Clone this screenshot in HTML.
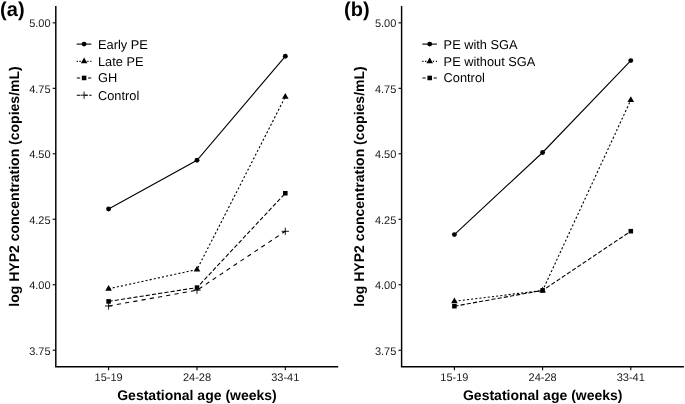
<!DOCTYPE html>
<html><head><meta charset="utf-8"><style>
html,body{margin:0;padding:0;background:#fff;width:685px;height:404px;overflow:hidden}
svg{display:block}
svg{will-change:transform}
text{font-family:"Liberation Sans",sans-serif;text-rendering:geometricPrecision}
.tk{font-size:11px;fill:#1a1a1a}
.lg{font-size:12.8px;fill:#000}
.ti{font-size:14px;font-weight:bold;fill:#000}
.lab{font-size:20px;font-weight:bold;fill:#000}
</style></head><body>
<svg width="685" height="404" viewBox="0 0 685 404">
<rect width="685" height="404" fill="#fff"/>
<path d="M55.80 6.1V367.50M55.10 366.8H338.20" stroke="#000" stroke-width="1.45" fill="none"/>
<path d="M52.70 22.85H55.8" stroke="#000" stroke-width="1.1"/>
<text x="50.55" y="27.25" class="tk" text-anchor="end">5.00</text>
<path d="M52.70 88.32H55.8" stroke="#000" stroke-width="1.1"/>
<text x="50.55" y="92.72" class="tk" text-anchor="end">4.75</text>
<path d="M52.70 153.80H55.8" stroke="#000" stroke-width="1.1"/>
<text x="50.55" y="158.20" class="tk" text-anchor="end">4.50</text>
<path d="M52.70 219.27H55.8" stroke="#000" stroke-width="1.1"/>
<text x="50.55" y="223.67" class="tk" text-anchor="end">4.25</text>
<path d="M52.70 284.75H55.8" stroke="#000" stroke-width="1.1"/>
<text x="50.55" y="289.15" class="tk" text-anchor="end">4.00</text>
<path d="M52.70 350.23H55.8" stroke="#000" stroke-width="1.1"/>
<text x="50.55" y="354.62" class="tk" text-anchor="end">3.75</text>
<path d="M108.60 366.8V370.30" stroke="#000" stroke-width="1.1"/>
<text x="108.60" y="381.4" class="tk" text-anchor="middle">15-19</text>
<path d="M197.00 366.8V370.30" stroke="#000" stroke-width="1.1"/>
<text x="197.00" y="381.4" class="tk" text-anchor="middle">24-28</text>
<path d="M285.30 366.8V370.30" stroke="#000" stroke-width="1.1"/>
<text x="285.30" y="381.4" class="tk" text-anchor="middle">33-41</text>
<text x="197.00" y="399.9" class="ti" text-anchor="middle">Gestational age (weeks)</text>
<text transform="translate(19.00,186.5) rotate(-90)" class="ti" text-anchor="middle">log HYP2 concentration (copies/mL)</text>
<text x="0.10" y="16.2" class="lab">(a)</text>
<polyline points="108.60,209.00 197.00,160.25 285.30,56.30" fill="none" stroke="#000" stroke-width="1.1"/><circle cx="108.60" cy="209.00" r="2.45" fill="#000"/><circle cx="197.00" cy="160.25" r="2.45" fill="#000"/><circle cx="285.30" cy="56.30" r="2.45" fill="#000"/>
<polyline points="108.60,288.80 197.00,269.50 285.30,96.80" fill="none" stroke="#000" stroke-width="1.1" stroke-dasharray="2.1 2.1"/><polygon points="108.60,284.99 111.90,290.71 105.30,290.71" fill="#000"/><polygon points="197.00,265.69 200.30,271.41 193.70,271.41" fill="#000"/><polygon points="285.30,92.99 288.60,98.71 282.00,98.71" fill="#000"/>
<polyline points="108.60,301.40 197.00,287.60 285.30,193.25" fill="none" stroke="#000" stroke-width="1.1" stroke-dasharray="4.18 2.09"/><rect x="106.32" y="299.12" width="4.56" height="4.56" fill="#000"/><rect x="194.72" y="285.32" width="4.56" height="4.56" fill="#000"/><rect x="283.02" y="190.97" width="4.56" height="4.56" fill="#000"/>
<polyline points="108.60,306.00 197.00,290.20 285.30,231.30" fill="none" stroke="#000" stroke-width="1.1" stroke-dasharray="4.18 4.18"/><path d="M104.95 306.00H112.25M108.60 302.35V309.65" stroke="#000" stroke-width="0.9" fill="none"/><path d="M193.35 290.20H200.65M197.00 286.55V293.85" stroke="#000" stroke-width="0.9" fill="none"/><path d="M281.65 231.30H288.95M285.30 227.65V234.95" stroke="#000" stroke-width="0.9" fill="none"/>
<path d="M76.70 44.10H91.30" stroke="#000" stroke-width="1.1"/>
<circle cx="84.10" cy="44.10" r="2.45" fill="#000"/>
<text x="98.00" y="48.50" class="lg">Early PE</text>
<path d="M76.70 61.35H77.90M79.40 61.35H80.70M87.30 61.35H88.50M90.30 61.35H91.40" stroke="#000" stroke-width="1.1"/>
<polygon points="84.10,57.54 87.40,63.26 80.80,63.26" fill="#000"/>
<text x="98.00" y="65.75" class="lg">Late PE</text>
<path d="M76.80 77.95H80.10M88.00 77.95H91.25" stroke="#000" stroke-width="1.1"/>
<rect x="81.82" y="75.67" width="4.56" height="4.56" fill="#000"/>
<text x="98.00" y="82.35" class="lg">GH</text>
<path d="M76.80 95.20H80.00M85.00 95.20H87.60M89.20 95.20H91.60" stroke="#000" stroke-width="1.1"/>
<path d="M80.45 95.20H87.75M84.10 91.55V98.85" stroke="#000" stroke-width="0.9" fill="none"/>
<text x="98.00" y="99.60" class="lg">Control</text>
<path d="M401.60 6.1V367.50M400.90 366.8H683.90" stroke="#000" stroke-width="1.45" fill="none"/>
<path d="M398.50 22.85H401.6" stroke="#000" stroke-width="1.1"/>
<text x="396.35" y="27.25" class="tk" text-anchor="end">5.00</text>
<path d="M398.50 88.32H401.6" stroke="#000" stroke-width="1.1"/>
<text x="396.35" y="92.72" class="tk" text-anchor="end">4.75</text>
<path d="M398.50 153.80H401.6" stroke="#000" stroke-width="1.1"/>
<text x="396.35" y="158.20" class="tk" text-anchor="end">4.50</text>
<path d="M398.50 219.27H401.6" stroke="#000" stroke-width="1.1"/>
<text x="396.35" y="223.67" class="tk" text-anchor="end">4.25</text>
<path d="M398.50 284.75H401.6" stroke="#000" stroke-width="1.1"/>
<text x="396.35" y="289.15" class="tk" text-anchor="end">4.00</text>
<path d="M398.50 350.23H401.6" stroke="#000" stroke-width="1.1"/>
<text x="396.35" y="354.62" class="tk" text-anchor="end">3.75</text>
<path d="M454.40 366.8V370.30" stroke="#000" stroke-width="1.1"/>
<text x="454.40" y="381.4" class="tk" text-anchor="middle">15-19</text>
<path d="M542.60 366.8V370.30" stroke="#000" stroke-width="1.1"/>
<text x="542.60" y="381.4" class="tk" text-anchor="middle">24-28</text>
<path d="M630.80 366.8V370.30" stroke="#000" stroke-width="1.1"/>
<text x="630.80" y="381.4" class="tk" text-anchor="middle">33-41</text>
<text x="542.75" y="399.9" class="ti" text-anchor="middle">Gestational age (weeks)</text>
<text transform="translate(364.12,186.5) rotate(-90)" class="ti" text-anchor="middle">log HYP2 concentration (copies/mL)</text>
<text x="344.00" y="16.2" class="lab">(b)</text>
<polyline points="454.40,234.60 542.60,152.50 630.80,60.60" fill="none" stroke="#000" stroke-width="1.1"/><circle cx="454.40" cy="234.60" r="2.45" fill="#000"/><circle cx="542.60" cy="152.50" r="2.45" fill="#000"/><circle cx="630.80" cy="60.60" r="2.45" fill="#000"/>
<polyline points="454.40,301.30 542.60,290.50 630.80,100.00" fill="none" stroke="#000" stroke-width="1.1" stroke-dasharray="2.1 2.1"/><polygon points="454.40,297.49 457.70,303.21 451.10,303.21" fill="#000"/><polygon points="542.60,286.69 545.90,292.41 539.30,292.41" fill="#000"/><polygon points="630.80,96.19 634.10,101.91 627.50,101.91" fill="#000"/>
<polyline points="454.40,306.20 542.60,290.40 630.80,231.20" fill="none" stroke="#000" stroke-width="1.1" stroke-dasharray="4.18 2.09"/><rect x="452.12" y="303.92" width="4.56" height="4.56" fill="#000"/><rect x="540.32" y="288.12" width="4.56" height="4.56" fill="#000"/><rect x="628.52" y="228.92" width="4.56" height="4.56" fill="#000"/>
<path d="M422.30 44.10H436.90" stroke="#000" stroke-width="1.1"/>
<circle cx="429.70" cy="44.10" r="2.45" fill="#000"/>
<text x="443.60" y="48.50" class="lg">PE with SGA</text>
<path d="M422.30 61.35H423.50M425.00 61.35H426.30M432.90 61.35H434.10M435.90 61.35H437.00" stroke="#000" stroke-width="1.1"/>
<polygon points="429.70,57.54 433.00,63.26 426.40,63.26" fill="#000"/>
<text x="443.60" y="65.75" class="lg">PE without SGA</text>
<path d="M422.40 77.95H425.70M433.60 77.95H436.85" stroke="#000" stroke-width="1.1"/>
<rect x="427.42" y="75.67" width="4.56" height="4.56" fill="#000"/>
<text x="443.60" y="82.35" class="lg">Control</text>
</svg>
</body></html>
